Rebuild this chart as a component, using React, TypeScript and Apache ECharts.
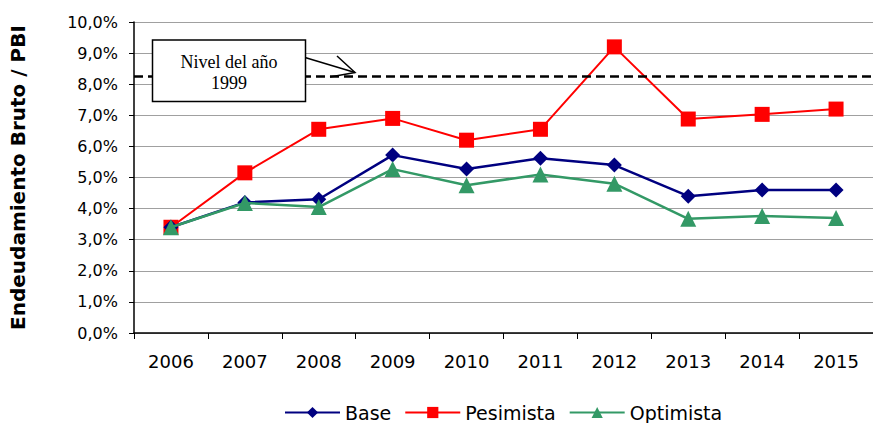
import React, { useEffect, useRef } from "react";
import * as echarts from "echarts";

const years = ["2006", "2007", "2008", "2009", "2010", "2011", "2012", "2013", "2014", "2015"];
const baseValues = [3.4, 4.2, 4.3, 5.72, 5.27, 5.62, 5.4, 4.4, 4.6, 4.6];
const pesimistaValues = [3.4, 5.15, 6.55, 6.9, 6.2, 6.55, 9.2, 6.88, 7.03, 7.2];
const optimistaValues = [3.4, 4.18, 4.05, 5.27, 4.75, 5.1, 4.8, 3.67, 3.76, 3.7];
const level1999 = 8.27;

const SANS = "DejaVu Sans, Verdana, sans-serif";

export default function App() {
  const ref = useRef<HTMLDivElement>(null);
  useEffect(() => {
    if (!ref.current) return;
    const chart = echarts.init(ref.current, null, { renderer: "svg" });
    chart.setOption({
      animation: false,
      backgroundColor: "#ffffff",
      textStyle: { fontFamily: SANS },
      grid: { left: 128, top: 22, width: 756, height: 311, containLabel: false },
      legend: {
        left: 279,
        top: 398,
        itemWidth: 55,
        itemHeight: 14,
        itemGap: 13,
        textStyle: { fontSize: 19, color: "#000", fontFamily: SANS },
        data: ["Base", "Pesimista", "Optimista"],
      },
      xAxis: {
        type: "category",
        data: years,
        boundaryGap: true,
        axisLine: { lineStyle: { color: "#000", width: 1.5 } },
        axisTick: { show: true, length: 6, interval: 0, lineStyle: { color: "#000" } },
        axisLabel: { fontSize: 18, color: "#000", margin: 19, fontFamily: SANS },
      },
      yAxis: {
        type: "value",
        min: 0,
        max: 10,
        interval: 1,
        name: "Endeudamiento Bruto / PBI",
        nameLocation: "middle",
        nameGap: 106,
        nameTextStyle: { fontSize: 20, fontWeight: "bold", color: "#000", fontFamily: SANS },
        axisLine: { show: true, lineStyle: { color: "#000", width: 1.5 } },
        axisTick: { show: true, length: 5, lineStyle: { color: "#000" } },
        axisLabel: {
          fontSize: 16,
          color: "#000",
          margin: 16,
          fontFamily: SANS,
          formatter: (v: number) => v.toFixed(1).replace(".", ",") + "%",
        },
        splitLine: { show: true, lineStyle: { color: "#a0a0a0", width: 1.2 } },
      },
      series: [
        {
          name: "Base",
          type: "line",
          data: baseValues,
          symbol: "diamond",
          symbolSize: 15,
          color: "#000080",
          lineStyle: { width: 2.5, color: "#000080" },
          itemStyle: { color: "#000080" },
          z: 3,
          markLine: {
            silent: true,
            symbol: "none",
            label: { show: false },
            lineStyle: { type: [9, 5], color: "#000", width: 2.5 },
            data: [{ yAxis: level1999 }],
          },
        },
        {
          name: "Pesimista",
          type: "line",
          data: pesimistaValues,
          symbol: "rect",
          symbolSize: 15,
          color: "#ff0000",
          lineStyle: { width: 2, color: "#ff0000" },
          itemStyle: { color: "#ff0000" },
          z: 2,
        },
        {
          name: "Optimista",
          type: "line",
          data: optimistaValues,
          symbol: "triangle",
          symbolSize: 16,
          color: "#339966",
          lineStyle: { width: 2.5, color: "#339966" },
          itemStyle: { color: "#339966" },
          z: 4,
        },
      ],
      graphic: [
        {
          type: "line",
          shape: { x1: 305, y1: 57.5, x2: 355, y2: 72.5 },
          style: { stroke: "#000", lineWidth: 1.5 },
          z: 100,
        },
        {
          type: "polyline",
          shape: { points: [[337, 56], [355, 72.5], [330, 77]] },
          style: { stroke: "#000", lineWidth: 1.5, fill: null },
          z: 100,
        },
        {
          type: "rect",
          shape: { x: 152.5, y: 40, width: 153, height: 61.5 },
          style: { fill: "#fff", stroke: "#000", lineWidth: 1.5 },
          z: 100,
        },
        {
          type: "text",
          x: 229,
          y: 72,
          style: {
            text: "Nivel del año\n1999",
            fontFamily: "Liberation Serif, Times New Roman, serif",
            fontSize: 18,
            lineHeight: 21,
            fill: "#000",
            align: "center",
            verticalAlign: "middle",
          },
          z: 101,
        },
      ],
    });
    return () => chart.dispose();
  }, []);
  return <div ref={ref} style={{ position: "fixed", left: 0, top: 0, width: 873, height: 423 }} />;
}
